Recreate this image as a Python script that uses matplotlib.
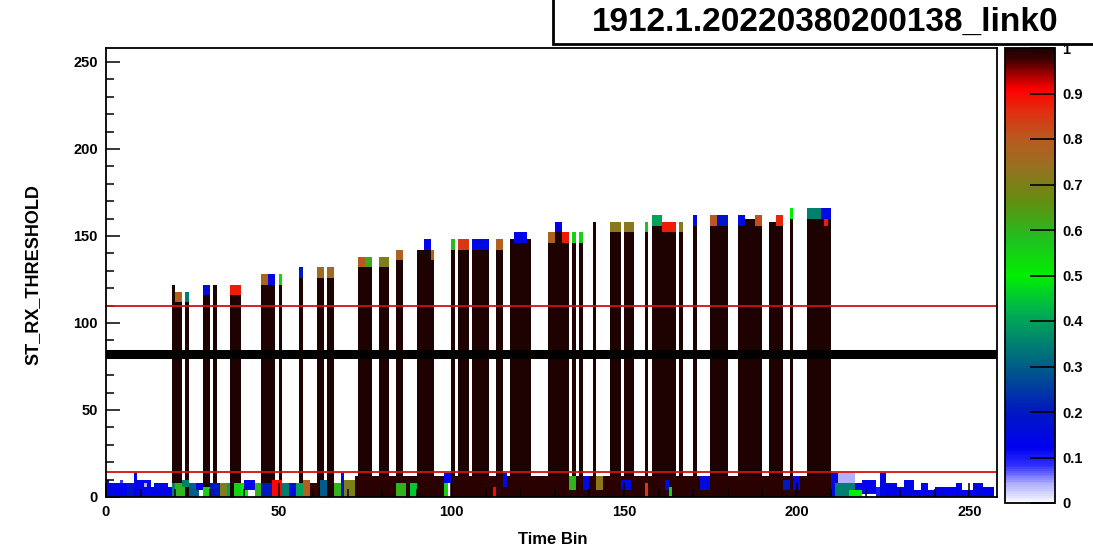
import numpy as np
import matplotlib
matplotlib.use("Agg")
import matplotlib.pyplot as plt
from matplotlib.colors import LinearSegmentedColormap
from matplotlib.patches import Rectangle
from matplotlib.ticker import MultipleLocator

plt.rcParams['font.family'] = ['Liberation Sans', 'DejaVu Sans']
plt.rcParams['font.weight'] = 'bold'

# ---------------- data ----------------
title = "1912.1.20220380200138_link0"
x_label = "Time Bin"
y_label = "ST_RX_THRESHOLD"

n_time_bins = 258
y_bin_width = 2
y_max = 258

# bars: start time bin, number of bins, top value, colour value of top cap
bar_start = [19, 20, 23, 28, 31, 36, 45, 47, 50, 56, 61, 64, 73, 75, 79, 84, 90, 92, 94,
             100, 102, 106, 113, 117, 118, 122, 128, 130, 132, 135, 137, 141, 146, 150,
             156, 158, 161, 163, 166, 170, 175, 177, 183, 185, 188, 192, 194, 198, 203, 207]
bar_nbins = [1, 2, 1, 2, 1, 3, 2, 2, 1, 1, 2, 2, 2, 2, 3, 2, 2, 2, 1,
             1, 3, 5, 2, 1, 4, 1, 2, 2, 2, 1, 1, 1, 3, 3,
             1, 3, 2, 2, 1, 1, 2, 3, 2, 3, 2, 2, 2, 1, 4, 3]
bar_top = [123, 118, 118, 123, 123, 123, 129, 129, 129, 133, 133, 133, 138, 138, 138, 143, 143, 148, 143,
           148, 148, 148, 148, 149, 152, 149, 153, 158, 153, 152, 152, 158, 158, 158,
           158, 163, 158, 158, 158, 163, 163, 163, 163, 161, 163, 159, 163, 167, 167, 167]
cap_value = [1.0, 0.78, 0.35, 0.15, 1.0, 0.88, 0.78, 0.15, 0.55, 0.2, 0.75, 0.75, 0.8, 0.62, 0.7, 0.78, 1.0, 0.12, 0.78,
             0.58, 0.85, 0.15, 0.78, 1.0, 0.13, 1.0, 0.78, 0.13, 0.88, 0.55, 0.55, 1.0, 0.72, 0.72,
             0.58, 0.4, 0.88, 0.88, 0.72, 0.15, 0.8, 0.18, 0.15, 1.0, 0.82, 1.0, 0.87, 0.5, 0.35, 0.15]
bar_body_value = 1.0
cap_height = 6

# low-threshold noise cells: x start, x end, y low, y high, colour value
noise_x0 = [0, 1, 3, 6, 8, 9, 11, 13, 16, 4, 14, 19,
            20, 22, 24, 26, 28, 30, 33, 35,
            37, 39, 40, 43, 45, 48, 51, 53, 55, 57, 59, 62, 66, 68, 69,
            72, 84, 88, 98, 98, 100,
            112, 115, 134, 138, 142, 149, 156, 162, 163, 172, 196, 199, 208,
            210, 212, 211, 215, 217, 219, 223, 224, 226, 229, 231, 234, 236, 238, 240, 243, 246, 248, 251, 254]
noise_x1 = [1, 3, 6, 8, 9, 13, 12, 20, 18, 5, 16, 20,
            23, 24, 27, 28, 30, 33, 35, 36,
            39, 41, 43, 45, 48, 51, 53, 55, 57, 59, 61, 64, 68, 69, 72,
            98, 87, 90, 99, 100, 210,
            113, 116, 136, 140, 144, 152, 157, 163, 164, 175, 198, 201, 209,
            212, 217, 217, 219, 219, 223, 224, 226, 229, 231, 234, 236, 238, 240, 243, 246, 248, 251, 254, 257]
noise_y0 = [0, 0, 0, 0, 0, 0, 6, 0, 4, 8, 4, 0,
            0, 6, 0, 4, 0, 0, 0, 0,
            0, 0, 4, 0, 0, 0, 0, 0, 0, 0, 0, 0, 0, 0, 0,
            0, 0, 0, 0, 8, 0,
            0, 6, 4, 4, 4, 4, 0, 4, 0, 4, 4, 4, 156,
            0, 8, 0, 0, 4, 2, 0, 0, 0, 0, 0, 0, 0, 0, 0, 0, 0, 0, 0, 0]
noise_y1 = [10, 8, 8, 8, 14, 10, 8, 6, 8, 10, 8, 8,
            8, 10, 8, 8, 6, 8, 8, 8,
            8, 8, 10, 8, 8, 10, 8, 8, 8, 10, 8, 10, 8, 14, 10,
            12, 8, 8, 8, 14, 12,
            6, 14, 12, 12, 12, 10, 8, 10, 6, 12, 10, 12, 161,
            14, 14, 8, 4, 8, 10, 6, 14, 8, 6, 10, 4, 8, 4, 6, 6, 8, 4, 8, 6]
noise_val = [0.12, 0.15, 0.12, 0.18, 0.13, 0.12, 0.04, 0.13, 0.12, 0.08, 0.16, 0.35,
             0.6, 0.35, 0.3, 0.14, 0.55, 0.2, 0.7, 0.4,
             0.55, 0.5, 0.14, 0.6, 0.2, 0.9, 0.35, 0.15, 0.4, 0.78, 0.98, 0.3, 0.6, 0.18, 0.7,
             0.99, 0.6, 0.45, 0.55, 0.12, 0.99,
             0.9, 0.15, 0.6, 0.15, 0.72, 0.15, 0.85, 0.15, 0.55, 0.15, 0.2, 0.15, 0.88,
             0.15, 0.04, 0.35, 0.5, 0.12, 0.12, 0.1, 0.14, 0.13, 0.12, 0.14, 0.13, 0.12, 0.13, 0.14, 0.12, 0.13, 0.12, 0.14, 0.13]

# reference lines
red_lines = [110, 14.5]
black_line = 82

x_ticks = [0, 50, 100, 150, 200, 250]
y_ticks = [0, 50, 100, 150, 200, 250]
cbar_ticks = [0, 0.1, 0.2, 0.3, 0.4, 0.5, 0.6, 0.7, 0.8, 0.9, 1.0]
cbar_ticklabels = ["0", "0.1", "0.2", "0.3", "0.4", "0.5", "0.6", "0.7", "0.8", "0.9", "1"]

# ---------------- build histogram ----------------
x_edges = np.arange(0, n_time_bins + 1)
y_edges = np.arange(0, y_max + y_bin_width, y_bin_width)
y_centers = 0.5 * (y_edges[:-1] + y_edges[1:])
Z = np.full((len(y_centers), n_time_bins), np.nan)

for s, n, top, cap in zip(bar_start, bar_nbins, bar_top, cap_value):
    body = y_centers < top - cap_height
    capr = (y_centers >= top - cap_height) & (y_centers < top)
    Z[body, s:s + n] = bar_body_value
    Z[capr, s:s + n] = cap

for x0, x1, y0, y1, v in zip(noise_x0, noise_x1, noise_y0, noise_y1, noise_val):
    rows = (y_centers >= y0) & (y_centers < y1)
    Z[rows, x0:x1] = v

cmap = LinearSegmentedColormap.from_list("rootlike", [
    (0.00, "#f8f8ff"), (0.04, "#b0b0ff"), (0.08, "#3030ff"), (0.12, "#0000f0"),
    (0.20, "#0018c0"), (0.28, "#005090"), (0.35, "#008070"), (0.42, "#00b050"),
    (0.50, "#00f000"), (0.58, "#20c020"), (0.66, "#609010"), (0.74, "#987020"),
    (0.80, "#b85a20"), (0.86, "#e03010"), (0.91, "#ff0000"), (0.95, "#900000"),
    (0.975, "#400000"), (1.00, "#1e0202")])
cmap.set_bad("white")

# ---------------- figure ----------------
fig = plt.figure(figsize=(10.93, 5.49), dpi=100)
W, H = 1093, 549
ax = fig.add_axes([106 / W, 1 - 497 / H, (997 - 106) / W, (497 - 48) / H])
mesh = ax.pcolormesh(x_edges, y_edges, np.ma.masked_invalid(Z), cmap=cmap, vmin=0, vmax=1)

for yv in red_lines:
    ax.axhline(yv, color="#d01010", lw=1.3)
ax.axhline(black_line, color="black", lw=6.5)

ax.set_xlim(0, n_time_bins)
ax.set_ylim(0, y_max)
ax.set_xticks(x_ticks)
ax.set_yticks(y_ticks)
ax.xaxis.set_minor_locator(MultipleLocator(10))
ax.yaxis.set_minor_locator(MultipleLocator(10))
ax.tick_params(which="both", direction="in", top=False, right=False, width=1.1)
ax.tick_params(which="major", length=10, labelsize=10.5, pad=6)
ax.tick_params(which="minor", length=6)
for lab in ax.get_xticklabels() + ax.get_yticklabels():
    lab.set_fontweight("bold")
for sp in ax.spines.values():
    sp.set_linewidth(1.3)

fig.text(0.506, 1 - 540 / H, x_label, ha="center", va="center", fontsize=12, fontweight="bold")
fig.text(33 / W, 1 - 275 / H, y_label, ha="center", va="center", rotation=90, fontsize=13, fontweight="bold")

# colour bar
cax = fig.add_axes([1005 / W, 1 - 503 / H, 50 / W, (503 - 48) / H])
cb = fig.colorbar(mesh, cax=cax)
cb.set_ticks(cbar_ticks)
cb.set_ticklabels(cbar_ticklabels)
cb.outline.set_linewidth(1.3)
cax.tick_params(direction="in", length=18, width=1.2, labelsize=10.5, pad=5)
for lab in cax.get_yticklabels():
    lab.set_fontweight("bold")

# title box
fig.patches.append(Rectangle((553 / W, 1 - 44 / H), 0.6, 0.2, transform=fig.transFigure,
                             facecolor="white", edgecolor="black", lw=2, zorder=5))
fig.text(825 / W, 1 - 22 / H, title, ha="center", va="center", fontsize=24,
         fontweight="bold", zorder=6)

fig.savefig("out.png", dpi=100)
